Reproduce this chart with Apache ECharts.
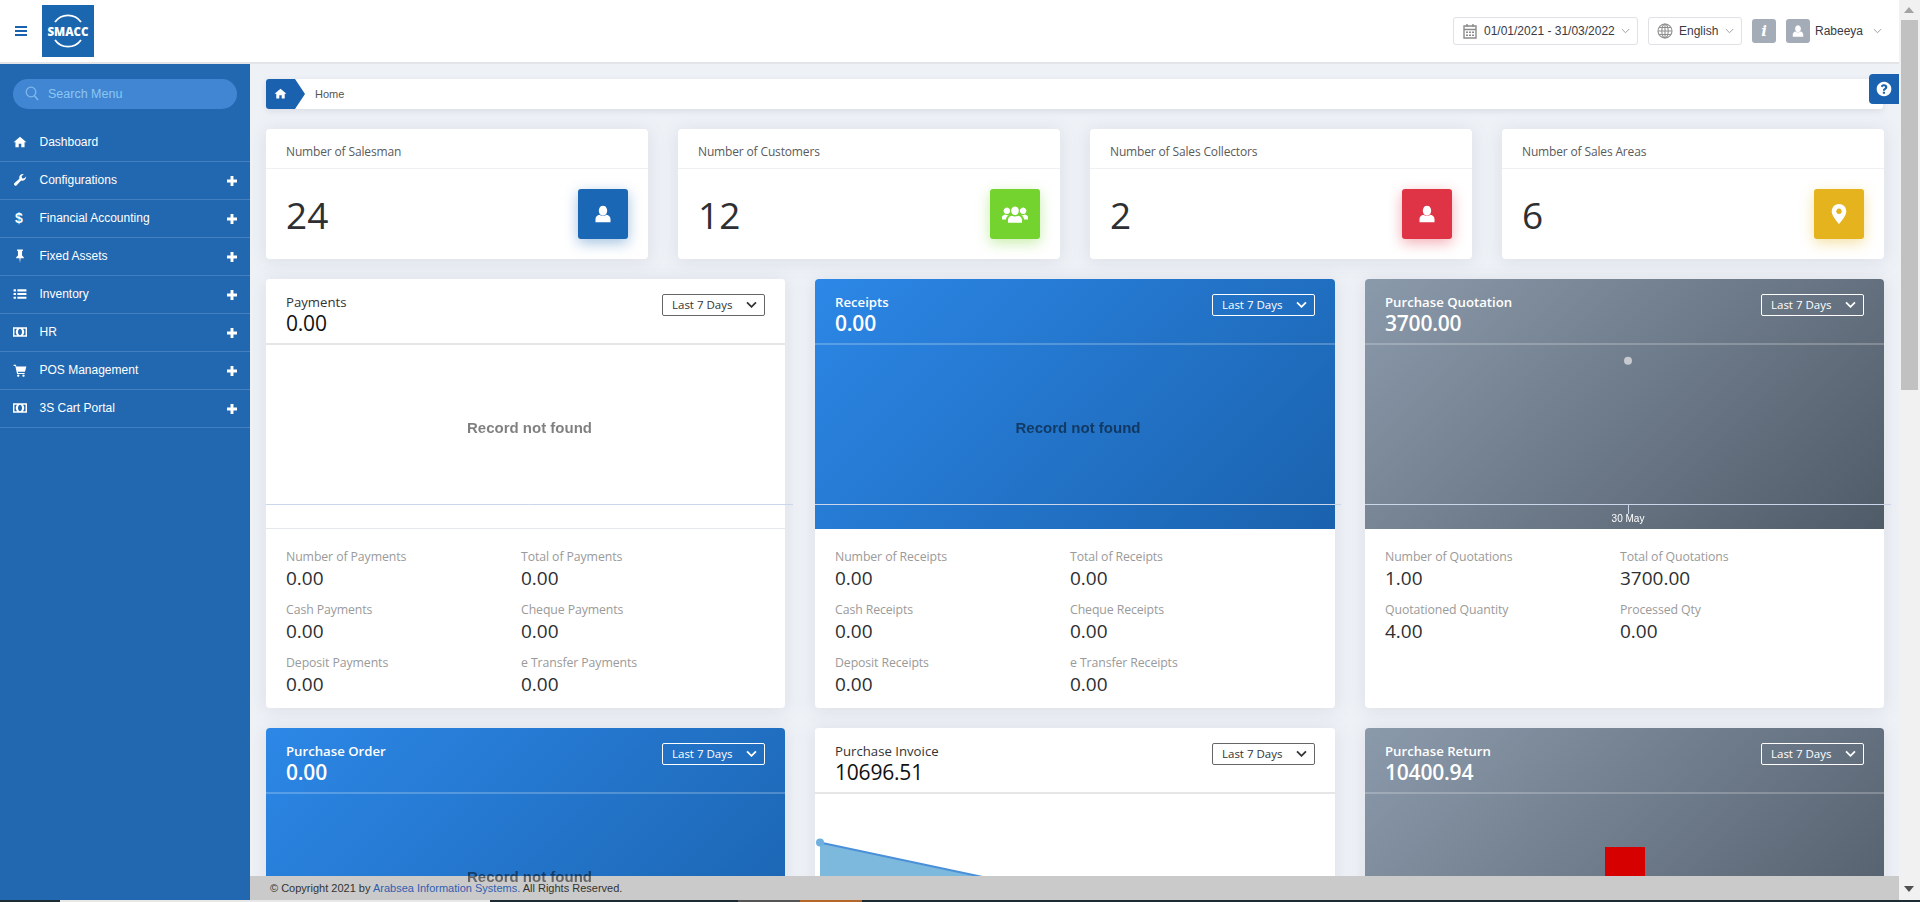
<!DOCTYPE html>
<html>
<head>
<meta charset="utf-8">
<title>SMACC Dashboard</title>
<script src="https://cdn.jsdelivr.net/npm/echarts@6/dist/echarts.min.js"></script>
<style>
  * { box-sizing: border-box; }
  html, body { margin: 0; width: 1920px; height: 902px; overflow: hidden; background: #eef1f6; font-family: "Open Sans", sans-serif; }
  svg { display: block; }
  .abs, .card, .bigcard, .menu-item { position: absolute; }
  .arial { font-family: "Liberation Sans", Arial, sans-serif; }
  #header { position: absolute; left: 0; top: 0; width: 1899px; height: 64px; background: #fff; border-bottom: 2px solid #e2e4e8; }
  #sidebar { position: absolute; left: 0; top: 64px; width: 250px; height: 836px; background: #2268b0; }
  .menu-item { left: 0; width: 250px; height: 38px; border-bottom: 1px solid #4480c0; color: #fff; font: 12px "Liberation Sans", Arial, sans-serif; }
  .menu-item .ic { position: absolute; left: 13px; top: 11px; }
  .menu-item .txt { position: absolute; left: 39.500px; top: 11px; line-height: 14px; }
  .menu-item .plus { position: absolute; left: 227px; top: 14px; }
  .hbox { position: absolute; top: 17px; height: 28px; border: 1px solid #dfe1e5; border-radius: 3px; }
  .htxt { position: absolute; top: 23px; font: 12px/16px "Liberation Sans", Arial, sans-serif; color: #3a3a44; }
  .card, .bigcard { background: #fff; border-radius: 4px; box-shadow: 0 2px 18px rgba(120,130,150,.16); }
  .card { top: 129px; height: 130px; }
  .card .ttl { position: absolute; left: 20px; top: 13.500px; font-size: 12px; letter-spacing: -.15px; line-height: 18px; color: #5a5a5a; }
  .card .line { position: absolute; left: 0; right: 0; top: 39px; height: 1px; background: #eef0f3; }
  .card .val { position: absolute; left: 20px; top: 59px; font-size: 37px; line-height: 54px; color: #2d2f33; }
  .card .ico { position: absolute; top: 60px; width: 50px; height: 50px; border-radius: 3px; display: flex; align-items: center; justify-content: center; }
  .bigcard { height: 429px; }
  .bigcard .top { position: absolute; left: 0; top: 0; width: 100%; height: 250px; border-radius: 4px 4px 0 0; }
  .white .top { background: #fff; border-bottom: 1px solid #e4e7ec; }
  .blue .top { background: linear-gradient(135deg, #2c87e6 0%, #1a62ae 100%); }
  .grey .top { background: linear-gradient(135deg, #8b9aab 0%, #505b68 100%); }
  .bigcard .sep { position: absolute; left: 0; right: 0; top: 64px; height: 2px; background: rgba(255,255,255,.22); }
  .white .sep { background: #e6e6e6; }
  .bigcard .name { position: absolute; left: 20px; top: 14px; font-size: 13.200px; line-height: 18px; font-weight: 600; color: #fff; }
  .bigcard .total { position: absolute; left: 20px; top: 29px; font-size: 21px; line-height: 30px; font-weight: 600; color: #fff; letter-spacing: -.2px; }
  .white .name { color: #333; font-weight: 400; }
  .white .total { color: #111; font-weight: 500; }
  .bigcard .drop { position: absolute; right: 20px; top: 15px; width: 103px; height: 22px; border: 1px solid #fff; border-radius: 2px; color: #fff; font: 11.500px/20px "Open Sans", sans-serif; padding-left: 9px; }
  .white .drop { border-color: #666; color: #333; }
  .bigcard .drop svg { position: absolute; right: 7px; top: 6px; }
  .st-label { position: absolute; font-size: 12.300px; letter-spacing: -.1px; line-height: 18px; color: #9a9a9a; white-space: nowrap; }
  .st-val { position: absolute; font-size: 19px; line-height: 26px; color: #2d2f33; }
  #footer { position: absolute; left: 250px; top: 876px; width: 1649px; height: 24px; background: #cacaca; z-index: 20; font: 11px/24px "Liberation Sans", Arial, sans-serif; color: #333; padding-left: 20px; }
  #footer a { color: #2f5fb0; text-decoration: none; }
  #scroll { position: absolute; left: 1899px; top: 0; width: 21px; height: 900px; background: #f1f1f1; z-index: 25; }
  .strip { position: absolute; top: 900px; height: 2px; z-index: 40; }
</style>
</head>
<body>
<div id="header"></div>
<div id="sidebar"></div>
<div id="main"></div>
<div id="footer">© Copyright 2021 by <a>Arabsea Information Systems.</a> All Rights Reserved.</div>
<div id="scroll"></div>
<script>
// datos del dashboard
const menuNames = ["Dashboard", "Configurations", "Financial Accounting", "Fixed Assets", "Inventory", "HR", "POS Management", "3S Cart Portal"];
const menuIcons = ["home", "wrench", "dollar", "pin", "list", "money", "cart", "money"];

const topTitles = ["Number of Salesman", "Number of Customers", "Number of Sales Collectors", "Number of Sales Areas"];
const topValues = ["24", "12", "2", "6"];
const topLefts = [266, 678, 1090, 1502];
const topColors = ["#1a67b5", "#74d32e", "#de3446", "#e4b31d"];
const topIcons = ["user", "users", "user", "marker"];
const topIconSizes = [20, 26, 20, 22];

const cardNames = ["Payments", "Receipts", "Purchase Quotation", "Purchase Order", "Purchase Invoice", "Purchase Return"];
const cardTotals = ["0.00", "0.00", "3700.00", "0.00", "10696.51", "10400.94"];
const cardThemes = ["white", "blue", "grey", "blue", "white", "grey"];

const paymentLabels = ["Number of Payments", "Total of Payments", "Cash Payments", "Cheque Payments", "Deposit Payments", "e Transfer Payments"];
const paymentValues = ["0.00", "0.00", "0.00", "0.00", "0.00", "0.00"];
const receiptLabels = ["Number of Receipts", "Total of Receipts", "Cash Receipts", "Cheque Receipts", "Deposit Receipts", "e Transfer Receipts"];
const receiptValues = ["0.00", "0.00", "0.00", "0.00", "0.00", "0.00"];
const quotationLabels = ["Number of Quotations", "Total of Quotations", "Quotationed Quantity", "Processed Qty"];
const quotationValues = ["1.00", "3700.00", "4.00", "0.00"];

// series de los graficos
const quotationDays = ["30 May"];
const quotationSeries = [3700];
const invoiceDays = ["Day 1", "Day 2"];
const invoiceSeries = [10696.51, 0];
const returnDays = ["Day 1"];
const returnSeries = [10400.94];

const cardLefts = [266, 815, 1365];
const cardWidths = [519, 520, 519];
const rowTops = [279, 728];

const icons = {
  home: "M12 3 1 12.5h3.2V21h5.6v-6h4.4v6h5.6v-8.5H23z",
  wrench: "M22.5 6.5a6.5 6.5 0 0 1-8.6 6.2L6.3 21a2.6 2.6 0 0 1-3.7-3.7l8.3-7.6a6.5 6.5 0 0 1 7.6-8l-3.8 3.8.8 3.3 3.3.8 3.8-3.8c.1.3.1.5.1.7z",
  pin: "M7 1h10v2l-1.5 1v7l3 3v2H13l-1 8-1-8H5.500v-2l3-3V4L7 3z",
  list: "M1 4h4v3.500H1zM7.500 4H23v3.500H7.500zM1 10.200h4v3.500H1zM7.500 10.200H23v3.500H7.500zM1 16.500h4V20H1zM7.500 16.500H23V20H7.500z",
  money: "M0 4h24v16H0zM2.500 6.500v11h4.300a9 9 0 0 1 0-11zm14.700 0a9 9 0 0 1 0 11h4.300v-11zM12 6.500a3.500 5.500 0 1 0 .01 0z",
  cart: "M1 3h4l.8 3H23l-2.500 9H8.300l.5 2H20v2H7L4 5H1zM9 19.500a2 2 0 1 0 .01 0zM18 19.500a2 2 0 1 0 .01 0z",
  user: "M12 2a5 6 0 1 1-.01 0zM8 13c1 1 2.500 1.500 4 1.500s3-.5 4-1.500c3 .5 5 2.500 5 5v4H3v-4c0-2.500 2-4.500 5-5z",
  users: "M12 5a3.500 4 0 1 1-.01 0zM9 13.500c1.800 1 4.200 1 6 0 2 .5 3.500 2 3.500 4V20h-13v-2.500c0-2 1.500-3.500 3.500-4zM4.500 6a3 3 0 1 1-.01 0zM19.500 6a3 3 0 1 1-.01 0zM3 12.500c1 .6 2.200.7 3.300.4-1.600 1-2.500 2.500-2.700 4.100H0v-2c0-1.200 1.300-2.200 3-2.500zM21 12.500c1.700.3 3 1.300 3 2.500v2h-3.600c-.2-1.600-1.100-3.100-2.700-4.100 1.100.3 2.300.2 3.300-.4z",
  marker: "M12 1a8 8 0 0 0-8 8c0 5.500 8 14 8 14s8-8.500 8-14a8 8 0 0 0-8-8zm0 5a3 3 0 1 1-.01 0z",
  plus: "M8.500 0h7v8.500H24v7h-8.500V24h-7v-8.500H0v-7h8.500z",
  question: "M12 1a11 11 0 1 0 .01 0zM12 5c3 0 5 1.700 5 4.200 0 3.300-3.500 3.300-3.500 5.300h-3.200c0-3.500 3.300-3.700 3.300-5.200 0-.8-.7-1.300-1.700-1.300s-1.900.6-2.500 1.500L7.200 7.800C8.300 6 10 5 12 5zm-1.700 11h3.200v3h-3.200z"
};

function svg(name, size, color) {
  return `<svg width="${size}" height="${size}" viewBox="0 0 24 24"><path fill="${color}" fill-rule="evenodd" d="${icons[name]}"/></svg>`;
}
function chevron(color, w, sw) {
  return `<svg width="${w}" height="${w * 0.65}" viewBox="0 0 12 8"><path d="M1 1.500 6 6.500 11 1.500" fill="none" stroke="${color}" stroke-width="${sw}"/></svg>`;
}

// cabecera
const header = document.querySelector("#header");
header.innerHTML = `
  <div class="abs" style="left:15px;top:26px;width:12px;height:2px;background:#1a62b0;box-shadow:0 4px 0 #1a62b0,0 8px 0 #1a62b0"></div>
  <svg class="abs" style="left:42px;top:5px" width="52" height="52" viewBox="0 0 52 52">
    <rect width="52" height="52" fill="#1a67b0"/>
    <path d="M13 17a16 16 0 0 1 26 0M13 35a16 16 0 0 0 26 0" fill="none" stroke="#fff" stroke-width="1.800"/>
    <text x="26" y="31" text-anchor="middle" fill="#fff" font-family="Open Sans" font-weight="800" font-size="11.500">SMACC</text>
  </svg>
  <div class="hbox" style="left:1453px;width:185px"></div>
  <svg class="abs" style="left:1463px;top:23px" width="14" height="16" viewBox="0 0 14 16"><path d="M1 3h12v12H1zM1 6.500h12M4 1v3M10 1v3" fill="none" stroke="#8b8b8b" stroke-width="1.400"/><path d="M3 8.500h2v1.500H3zM6 8.500h2v1.500H6zM9 8.500h2v1.500H9zM3 11.500h2V13H3zM6 11.500h2V13H6zM9 11.500h2V13H9z" fill="#8b8b8b"/></svg>
  <div class="htxt" style="left:1484px">01/01/2021 - 31/03/2022</div>
  <div class="abs" style="left:1621px;top:28px">${chevron("#9a9a9a", 9, 1.3)}</div>
  <div class="hbox" style="left:1648px;width:94px"></div>
  <svg class="abs" style="left:1657px;top:23px" width="16" height="16" viewBox="0 0 16 16"><g fill="none" stroke="#8f8f8f" stroke-width="1.100"><circle cx="8" cy="8" r="7"/><ellipse cx="8" cy="8" rx="3.200" ry="7"/><path d="M8 1v14M1 8h14M2 4.500h12M2 11.500h12"/></g></svg>
  <div class="htxt" style="left:1679px">English</div>
  <div class="abs" style="left:1725px;top:28px">${chevron("#9a9a9a", 9, 1.3)}</div>
  <div class="abs" style="left:1752px;top:19px;width:24px;height:24px;background:#a4acb8;border-radius:3px;color:#fff;text-align:center;font:italic bold 15px/24px 'DejaVu Serif',serif">i</div>
  <div class="abs" style="left:1786px;top:19px;width:24px;height:24px;background:#a4acb8;border-radius:3px;padding:5px">${svg("user", 14, "#fff")}</div>
  <div class="htxt" style="left:1815px">Rabeeya</div>
  <div class="abs" style="left:1873px;top:28px">${chevron("#9a9a9a", 9, 1.3)}</div>`;

// menu lateral
const sidebar = document.querySelector("#sidebar");
sidebar.innerHTML = `<div class="abs" style="left:13px;top:15px;width:224px;height:30px;border-radius:15px;background:#4186d3"></div>
  <svg class="abs" style="left:25px;top:22px" width="14" height="15" viewBox="0 0 14 15"><circle cx="6" cy="6" r="4.800" fill="none" stroke="#7fb8ea" stroke-width="1.300"/><path d="M9.500 9.800 13 14" stroke="#7fb8ea" stroke-width="1.500"/></svg>
  <div class="abs arial" style="left:48px;top:23px;font-size:12.500px;line-height:14px;color:#8cc6f2">Search Menu</div>`;
menuNames.forEach((name, i) => {
  const item = document.createElement("div");
  item.className = "menu-item";
  item.style.top = 60 + i * 38 + "px";
  const icono = menuIcons[i] === "dollar"
    ? `<span style="position:absolute;left:15px;top:10px;font:bold 14px/16px 'Liberation Sans';color:#fff">$</span>`
    : `<span class="ic">${svg(menuIcons[i], 14, "#fff")}</span>`;
  item.innerHTML = icono + `<span class="txt">${name}</span>` + (i > 0 ? `<span class="plus">${svg("plus", 10, "#fff")}</span>` : "");
  sidebar.appendChild(item);
});

// breadcrumb y ayuda
const main = document.querySelector("#main");
main.innerHTML = `
  <div class="abs" style="left:266px;top:79px;width:1617px;height:30px;background:#fff;border-radius:3px;box-shadow:0 2px 6px rgba(120,130,150,.18)"></div>
  <div class="abs" style="left:266px;top:79px;width:39px;height:30px;background:#1a62b0;border-radius:3px 0 0 3px;clip-path:polygon(0 0,29px 0,100% 50%,29px 100%,0 100%);padding:8px 0 0 8px">${svg("home", 13, "#fff")}</div>
  <div class="abs arial" style="left:315px;top:87px;font-size:11px;line-height:14px;color:#555">Home</div>
  <div class="abs" style="left:1869px;top:74px;width:30px;height:30px;background:#1a62b0;border-radius:4px 0 0 4px;padding:7px;z-index:5">${svg("question", 16, "#fff")}</div>`;

// tarjetas superiores
topTitles.forEach((titulo, i) => {
  const card = document.createElement("div");
  card.className = "card";
  card.style.left = topLefts[i] + "px";
  card.style.width = "382px";
  card.innerHTML = `<div class="ttl">${titulo}</div><div class="line"></div><div class="val">${topValues[i]}</div>
    <div class="ico" style="right:20px;background:${topColors[i]};box-shadow:0 4px 14px ${topColors[i]}66">${svg(topIcons[i], topIconSizes[i], "#fff")}</div>`;
  main.appendChild(card);
});

// tarjetas con grafico
cardNames.forEach((nombre, i) => {
  const card = document.createElement("div");
  card.className = "bigcard " + cardThemes[i];
  card.style.left = cardLefts[i % 3] + "px";
  card.style.top = rowTops[Math.floor(i / 3)] + "px";
  card.style.width = cardWidths[i % 3] + "px";
  const flecha = cardThemes[i] === "white" ? "#333" : "#fff";
  card.innerHTML = `<div class="top"></div><div class="sep"></div>
    <div class="name">${nombre}</div><div class="total">${cardTotals[i]}</div>
    <div class="drop">Last 7 Days${chevron(flecha, 11, 2)}</div>`;
  main.appendChild(card);
});

function addStats(cardIndex, labels, values) {
  const x = cardLefts[cardIndex];
  labels.forEach((label, i) => {
    const col = x + 20 + (i % 2) * 235;
    const row = Math.floor(i / 2) * 53;
    main.insertAdjacentHTML("beforeend",
      `<div class="st-label" style="left:${col}px;top:${548 + row}px">${label}</div>
       <div class="st-val" style="left:${col}px;top:${565 + row}px">${values[i]}</div>`);
  });
}
addStats(0, paymentLabels, paymentValues);
addStats(1, receiptLabels, receiptValues);
addStats(2, quotationLabels, quotationValues);

// graficos
function crearGrafico({ left, top, width, days, values, type, yMax, grid, z }) {
  const container = document.createElement("div");
  container.style.cssText = `position:absolute;left:${left}px;top:${top}px;width:${width}px;height:184px;z-index:${z || 1}`;
  main.appendChild(container);
  const vacio = values.length === 0;
  const series = vacio ? [] : [{
    type,
    data: values,
    symbol: "circle",
    symbolSize: 8,
    showSymbol: true,
    showAllSymbols: true,
    clip: false,
    barWidth: 40,
    itemStyle: { color: type === "bar" ? "#d60000" : (values.length > 1 ? "#6fb0e0" : "#c6cacf") },
    lineStyle: { color: "#4a90d9", width: 2 },
    areaStyle: values.length > 1 ? { color: "#7db9dd", opacity: 1 } : undefined,
  }];
  const option = {
    animation: false,
    title: vacio ? {
      text: "Record not found",
      left: "center",
      top: 71,
      textStyle: { fontFamily: "Liberation Sans", fontSize: 15, fontWeight: "bold", color: "rgba(0,0,0,0.5)" },
    } : undefined,
    grid: { left: grid[0], width: grid[1], top: 4, height: 155, outerBoundsMode: "none" },
    xAxis: {
      type: "category",
      data: days,
      boundaryGap: !(values.length > 1),
      axisLine: { lineStyle: { color: "#ccd6eb" } },
      axisTick: { show: true, interval: 0, length: 10, alignWithLabel: true, lineStyle: { color: "#ccd6eb" } },
      axisLabel: { margin: 10, fontFamily: "Liberation Sans", fontSize: 10, color: "#fff", verticalAlign: "top" },
    },
    yAxis: { type: "value", show: false, min: 0, max: yMax },
    series,
  };
  const miGrafico = echarts.init(container);
  miGrafico.setOption(option);
  return miGrafico;
}

crearGrafico({ left: 266, top: 345, width: 527, days: [], values: [], type: "line", yMax: 1, grid: [0, 527] });
crearGrafico({ left: 815, top: 345, width: 526, days: [], values: [], type: "line", yMax: 1, grid: [0, 526] });
crearGrafico({ left: 1365, top: 345, width: 526, days: quotationDays, values: quotationSeries, type: "line", yMax: 4000, grid: [0, 526] });
crearGrafico({ left: 266, top: 794, width: 527, days: [], values: [], type: "line", yMax: 1, grid: [0, 527], z: 30 });
crearGrafico({ left: 815, top: 794, width: 526, days: invoiceDays, values: invoiceSeries, type: "line", yMax: 15000, grid: [5, 521] });
crearGrafico({ left: 1365, top: 794, width: 526, days: returnDays, values: returnSeries, type: "bar", yMax: 15200, grid: [0, 520] });

// franja inferior y barra de scroll
const strips = [[0, 60, "#1d2b33"], [60, 430, "#e8e8e8"], [490, 248, "#1d2b33"], [738, 62, "#555"], [800, 62, "#b5672a"], [862, 1058, "#1d2b33"]];
strips.forEach(([x, w, c]) => document.body.insertAdjacentHTML("beforeend", `<div class="strip" style="left:${x}px;width:${w}px;background:${c}"></div>`));
document.querySelector("#scroll").innerHTML = `
  <div class="abs" style="left:2px;top:20px;width:17px;height:370px;background:#c1c1c1"></div>
  <div class="abs" style="left:5px;top:7px;border:5px solid transparent;border-top:0;border-bottom:6px solid #a3a3a3"></div>
  <div class="abs" style="left:5px;top:886px;border:5px solid transparent;border-bottom:0;border-top:6px solid #505050"></div>`;
</script>
</body>
</html>
